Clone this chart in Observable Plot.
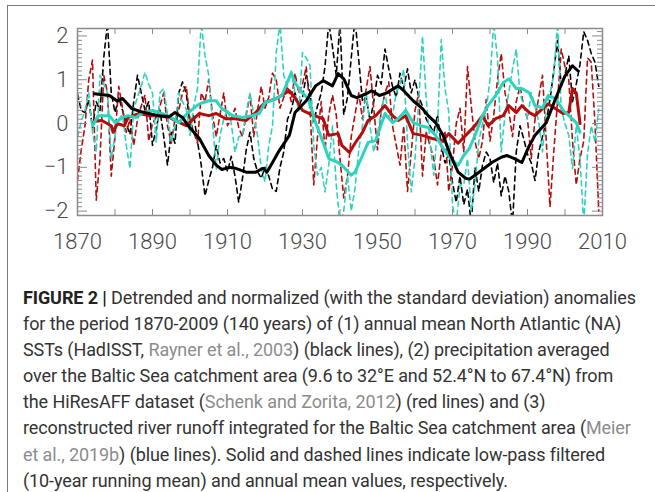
<!DOCTYPE html>
<html>
<head>
<meta charset="utf-8">
<script src="https://cdn.jsdelivr.net/npm/d3@7"></script>
<script src="https://cdn.jsdelivr.net/npm/@observablehq/plot@0.6"></script>
<style>
  html, body { margin: 0; padding: 0; background: #fff; }
  body { width: 655px; height: 492px; position: relative; overflow: hidden; }
  #frame { position: absolute; left: 7px; top: 5px; width: 660px; height: 500px;
           border-top: 1.5px solid #7a7a7a; border-left: 1.5px solid #7a7a7a; }
  #chart { position: absolute; left: 0; top: 0; }
  #caption { position: absolute; left: 23px; top: 285px; font-family: Roboto, "Liberation Sans", sans-serif;
             font-size: 18px; line-height: 26.1px; color: #333; white-space: nowrap; letter-spacing: -0.1px; }
  #caption b { color: #222; }
  #caption .ref { color: #8c8c8c; }
</style>
</head>
<body>
<div id="frame"></div>
<div id="chart"></div>
<div id="caption">
<b>FIGURE 2 |</b> Detrended and normalized (with the standard deviation) anomalies<br>
for the period 1870-2009 (140 years) of (1) annual mean North Atlantic (NA)<br>
SSTs (HadISST, <span class="ref">Rayner et al., 2003</span>) (black lines), (2) precipitation averaged<br>
over the Baltic Sea catchment area (9.6 to 32°E and 52.4°N to 67.4°N) from<br>
the HiResAFF dataset (<span class="ref">Schenk and Zorita, 2012</span>) (red lines) and (3)<br>
reconstructed river runoff integrated for the Baltic Sea catchment area (<span class="ref">Meier</span><br>
<span class="ref">et al., 2019b</span>) (blue lines). Solid and dashed lines indicate low-pass filtered<br>
(10-year running mean) and annual mean values, respectively.
</div>
<script>
// ---- data ----
const firstYear = 1870;
// annual values 1870..2009 (dashed lines)
const sstAnnual = [
  0.67, 0.3, 0.25, 0.55, -0.1, 0.5, 0.3, 1.5, 2.3, 0.7,
  0.25, 0.6, 0.3, 0.0, -0.25, 0.5, 1.1, 0.7, 0.3, 0.5,
  -0.5, -0.1, 0.3, -0.3, -0.95, -0.2, -0.45, 0.7, 0.95, 0.7,
  -0.05, 0.2, -0.4, -0.95, -1.65, -1.3, -1.0, -0.5, -0.9, -0.8,
  -1.1, -0.75, -1.2, -1.8, -1.25, -0.6, -0.2, -0.8, -1.1, -1.25,
  -1.0, -1.2, -1.5, -1.55, -1.0, -0.65, 0.1, 0.3, 0.7, 0.4,
  0.6, 1.1, 0.7, 0.05, 0.4, 0.7, 1.3, 2.3, 1.75, 1.1,
  2.3, 0.2, 0.6, 1.5, 2.4, 1.45, 0.5, 0.6, 0.05, 0.5,
  1.1, 0.9, 1.7, 1.25, 0.85, 0.6, 1.15, 0.8, 1.25, 0.7,
  1.0, 0.6, 0.4, 0.1, -0.05, -0.2, 0.2, -0.5, -0.9, -0.7,
  -1.35, -1.8, -1.2, -1.85, -1.5, -2.3, -1.0, -1.55, -0.95, -0.65,
  -0.8, -1.35, -0.9, -1.65, -1.2, -1.55, -2.3, -0.65, -0.05, -0.35,
  -0.7, -0.9, -1.3, -0.65, -0.3, 0.05, 0.55, 1.2, 1.9, 0.85,
  1.1, 1.55, 0.5, 0.9, 1.35, 2.1, 1.9, 1.6, 1.4, 0.85
];
const precipAnnual = [
  -1.3, -0.6, -0.05, 1.0, 1.45, -1.75, -0.8, 1.1, 0.7, -1.2,
  -0.3, 0.85, 0.35, -0.2, 0.1, -0.5, 0.1, 0.4, 0.65, -0.4,
  0.0, 0.15, 0.4, 0.7, -0.05, -0.45, 0.1, 0.3, 0.7, 0.85,
  0.1, -0.2, -0.45, 0.7, 0.5, 1.0, 0.2, -0.3, 0.2, 0.7,
  -0.05, 0.1, 0.35, -0.1, -0.3, 0.2, 0.65, -0.3, 0.3, 0.85,
  0.35, 0.6, 1.15, 1.0, 0.35, 0.6, 0.85, 0.5, 1.15, 0.7,
  0.9, 1.3, 0.35, -1.4, -0.3, 0.5, -0.6, 0.2, 0.65, 0.2,
  -0.8, -1.7, -1.2, -0.3, 0.2, 0.7, 0.1, 0.8, 1.3, 0.35,
  -0.6, 0.3, 0.7, 0.95, -0.05, -0.5, -0.95, -0.05, -1.55, -0.65,
  0.3, 0.7, -1.2, -0.2, -0.5, -0.8, -1.4, -0.65, -0.2, -1.55,
  -0.95, 0.0, 0.35, -0.65, 1.3, 0.4, -0.4, -0.8, -0.4, 0.55,
  -0.4, 0.2, 1.0, 1.6, 0.7, 0.3, -0.3, 0.5, 0.85, 0.4,
  0.1, -0.8, 0.1, 0.6, 1.1, -0.4, -1.9, -0.65, 0.5, 1.7,
  1.3, 1.0, -0.4, -1.4, -0.8, -0.4, 1.5, 1.4, 0.0, -2.0
];
const runoffAnnual = [
  -0.3, 0.05, 0.3, 0.7, -0.2, -0.65, 1.1, 0.9, 0.7, -0.8,
  -0.27, 0.1, 0.2, -0.5, -1.03, 0.33, 0.6, 0.86, 1.17, 0.9,
  0.7, -0.42, 0.7, 0.8, 0.2, -0.42, -0.05, 0.7, 0.5, 0.33,
  -0.27, 0.4, 0.8, 2.3, 1.55, 1.1, 0.03, -1.03, -0.27, 0.1,
  0.33, 0.0, -0.65, -0.3, -0.27, 0.26, 0.7, 0.2, -0.27, -1.03,
  -1.33, -0.5, -0.05, 1.62, 2.3, 1.1, 0.86, 1.2, 0.7, 0.26,
  1.62, 1.5, 1.32, -0.5, -1.18, -1.0, -1.56, -0.95, -0.05, -1.4,
  -2.3, -2.0, -1.2, -2.0, -1.48, -0.6, -0.05, 0.7, -0.05, -0.65,
  -0.27, 0.3, 0.7, 0.18, 0.18, 0.7, 0.9, 1.24, -0.42, -1.56,
  -0.8, 0.5, 2.0, 0.56, -0.4, -1.18, -0.05, 1.92, 0.8, 0.26,
  -1.86, -2.3, -1.4, -1.4, -0.8, -2.0, -1.4, -0.42, 0.0, 0.33,
  1.0, 2.3, 1.47, -0.65, 0.2, 0.7, 1.24, 1.7, 0.7, 0.4,
  0.1, 0.7, 0.4, 0.03, -0.65, 0.33, 0.7, 1.1, 2.3, 0.33,
  0.0, -0.27, -1.03, -0.05, -0.8, -2.3, -0.7, -0.05, -0.42, 0.33
];
// 10-year running means (solid lines): years and values
const sstSmoothYears = [1874.5,1878.5,1880.5,1882,1884.5,1887,1889,1891.5,1894.5,1896,1898,1899.5,1902.5,1905,1907,1908.5,1910.5,1912,1915,1917.5,1919.5,1920.5,1922,1923.5,1926.5,1928,1931,1933.5,1935.5,1938,1939.5,1941,1941.5,1943,1944.5,1947,1948.5,1950.5,1952.5,1955.5,1957,1959.5,1962,1963.5,1965.5,1967.5,1969.5,1971.5,1973.5,1974.5,1976,1978.5,1980.5,1983,1984.5,1986.5,1988.5,1990.5,1992,1995,1997.5,2000,2002,2003.5];
const sstSmooth = [0.68,0.64,0.52,0.57,0.34,0.27,0.23,0.18,0.16,0.25,0.14,-0.05,-0.34,-0.73,-0.95,-1.05,-1.0,-1.02,-1.11,-1.11,-1.02,-1.11,-0.89,-0.66,-0.27,0.25,0.52,0.86,0.98,0.86,1.14,1.02,0.93,0.64,0.59,0.68,0.75,0.64,0.7,0.86,0.75,0.52,0.34,0.18,0.02,-0.27,-0.73,-1.11,-1.25,-1.27,-1.18,-1.02,-0.89,-0.77,-0.73,-0.8,-0.89,-0.5,-0.27,0.02,0.57,1.09,1.32,1.2];
const precipSmoothYears = [1874.5,1876.5,1879,1879.5,1880.5,1882.5,1883.5,1886.5,1889,1891.5,1894.5,1896,1899,1900.5,1902.5,1905,1907,1909.5,1912,1915,1917.5,1920,1923,1926.5,1928,1930,1932.5,1935.5,1937,1939.5,1940.5,1942.5,1944,1946,1947.5,1949.5,1952,1954,1955.5,1957.5,1959.5,1962,1964.5,1967.5,1969,1971.5,1973.5,1976,1978,1979.5,1981.5,1983.5,1985,1987,1988.5,1990.5,1992,1994,1995.5,1997.5,1999.5,2001,2002,2003,2004];
const precipSmooth = [0.05,0.07,-0.05,-0.2,0.0,-0.05,0.14,0.23,0.18,0.18,0.14,0.07,-0.05,0.07,0.23,0.18,0.23,0.11,0.11,0.07,0.25,0.48,0.57,0.75,0.59,0.3,0.2,0.11,-0.27,-0.23,-0.5,-0.66,-0.45,-0.2,0.07,0.18,0.41,0.18,0.07,0.18,-0.23,-0.27,-0.34,-0.39,-0.23,-0.45,-0.27,-0.05,0.18,-0.05,0.11,0.18,0.41,0.25,0.41,0.25,0.18,0.34,0.45,0.34,0.23,0.25,0.8,0.7,0.0];
const runoffSmoothYears = [1874,1875.5,1878.5,1880,1882,1883.5,1885.5,1887.5,1890,1892.5,1895.5,1897,1899.5,1902.5,1905,1907,1908.5,1911.5,1914,1916.5,1918.5,1920,1923,1924.5,1927,1928,1930,1931.5,1933.5,1935.5,1937,1939,1940.5,1943,1944,1946,1947.5,1949.5,1952,1954,1955.5,1957.5,1959.5,1961.5,1963.5,1965.5,1967.5,1969.5,1971.5,1973,1974.5,1976,1978,1979.5,1981.5,1983.5,1985,1987,1988.5,1990.5,1992,1994,1995.5,1997.5,1999.5,2001,2003,2004];
const runoffSmooth = [-0.05,0.18,0.18,0.02,0.14,0.18,0.14,0.25,0.3,0.23,0.11,0.02,0.25,0.45,0.52,0.52,0.34,0.18,0.14,0.18,0.23,0.48,0.57,0.64,1.16,0.93,0.7,0.57,0.02,-0.43,-0.8,-0.87,-0.95,-1.18,-1.11,-0.73,-0.43,-0.39,0.23,0.02,0.11,0.3,0.02,-0.05,-0.09,-0.27,-0.57,-0.8,-0.95,-0.73,-0.57,-0.27,0.18,0.41,0.64,0.93,1.02,0.8,0.8,0.7,0.41,0.36,0.64,0.57,0.3,0.18,0.02,-0.2];
// axis labels
const xTickLabels = [1870, 1890, 1910, 1930, 1950, 1970, 1990, 2010];
const xTickMarks = [1880, 1890, 1900, 1910, 1920, 1930, 1940, 1950, 1960, 1970, 1980, 1990, 2000];
const yTickLabels = [-2, -1, 0, 1, 2];

// ---- build tables ----
const annual = (vals) => vals.map((v, i) => ({year: firstYear + i, value: v}));
const smooth = (ys, vals) => ys.map((y, i) => ({year: y, value: vals[i]}));

const colors = {sst: "#000000", precip: "#b30d0d", runoff: "#2ed3bd"};

const W = 655, H = 270;
const mL = 77, mR = 53, mT = 28, mB = 55;
const plotW = W - mL - mR, plotH = H - mT - mB;

const minorY = d3.range(-21, 22).map(d => d / 10).filter(d => Math.abs(d - Math.round(d)) > 1e-9);
const majorY = [-2, -1, 0, 1, 2];
const minus = d => d < 0 ? "\u2212" + Math.abs(d) : String(d);

const dash = "5,4";
const chart = Plot.plot({
  width: W, height: H,
  marginLeft: mL, marginRight: mR, marginTop: mT, marginBottom: mB,
  x: {domain: [1870, 2010], label: null},
  y: {domain: [-2.1, 2.17], label: null},
  style: {fontFamily: "'Roboto Light', Roboto, 'Liberation Sans', sans-serif", fontSize: "22px", color: "#4a4a4a", background: "transparent", fontWeight: 300},
  marks: [
    Plot.lineY(annual(sstAnnual), {x: "year", y: "value", stroke: colors.sst, strokeWidth: 1.6, strokeDasharray: dash, clip: true}),
    Plot.lineY(annual(precipAnnual), {x: "year", y: "value", stroke: colors.precip, strokeWidth: 1.6, strokeDasharray: dash, clip: true}),
    Plot.lineY(annual(runoffAnnual), {x: "year", y: "value", stroke: colors.runoff, strokeWidth: 1.6, strokeDasharray: dash, clip: true}),
    Plot.lineY(smooth(precipSmoothYears, precipSmooth), {x: "year", y: "value", stroke: colors.precip, strokeWidth: 3, clip: true}),
    Plot.lineY(smooth(runoffSmoothYears, runoffSmooth), {x: "year", y: "value", stroke: colors.runoff, strokeWidth: 3, clip: true}),
    Plot.lineY(smooth(sstSmoothYears, sstSmooth), {x: "year", y: "value", stroke: colors.sst, strokeWidth: 3, clip: true}),
    Plot.frame({stroke: "#8a8a8a", strokeWidth: 1.5}),
    // inward ticks
    Plot.tickX(xTickMarks, {x: d => d, insetTop: plotH - 6, stroke: "#8a8a8a"}),
    Plot.tickX(xTickMarks, {x: d => d, insetBottom: plotH - 6, stroke: "#8a8a8a"}),
    Plot.tickY(minorY, {y: d => d, insetRight: plotW - 5, stroke: "#8a8a8a"}),
    Plot.tickY(minorY, {y: d => d, insetLeft: plotW - 5, stroke: "#8a8a8a"}),
    Plot.tickY(majorY, {y: d => d, insetRight: plotW - 10, stroke: "#8a8a8a"}),
    Plot.tickY(majorY, {y: d => d, insetLeft: plotW - 10, stroke: "#8a8a8a"}),
    Plot.axisX({ticks: xTickLabels, tickSize: 0, tickPadding: 18, tickFormat: d => String(d), fontSize: 22, label: null}),
    Plot.axisY({ticks: yTickLabels, tickSize: 0, tickPadding: 9, tickFormat: minus, fontSize: 22, label: null})
  ]
});
document.getElementById("chart").appendChild(chart);
</script>
</body>
</html>
